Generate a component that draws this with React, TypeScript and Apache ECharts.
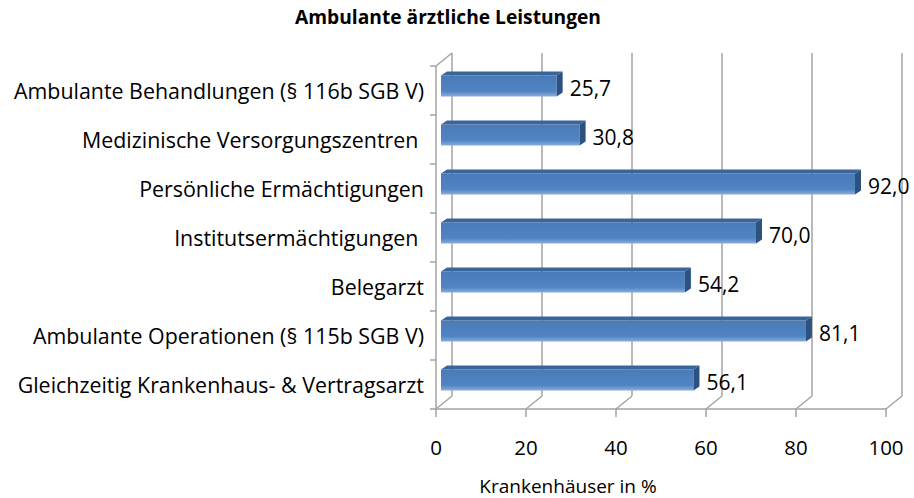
import React, { useEffect, useRef } from "react";
import * as echarts from "echarts";

const TITLE = "Ambulante ärztliche Leistungen";
const AXIS_NAME = "Krankenhäuser in %";
const categories = [
  "Ambulante Behandlungen (§ 116b SGB V)",
  "Medizinische Versorgungszentren ",
  "Persönliche Ermächtigungen",
  "Institutsermächtigungen ",
  "Belegarzt",
  "Ambulante Operationen (§ 115b SGB V)",
  "Gleichzeitig Krankenhaus- & Vertragsarzt",
];
const values = [25.7, 30.8, 92.0, 70.0, 54.2, 81.1, 56.1];
const xTicks = [0, 20, 40, 60, 80, 100];

const FONT = "'Open Sans', 'Noto Sans', sans-serif";
const GRID_GRAY = "#a3a3a3";
const DEPTH_X = 16;
const DEPTH_Y = -13;

export default function App() {
  const ref = useRef<HTMLDivElement>(null);
  useEffect(() => {
    document.body.style.margin = "0";
    const chart = echarts.init(ref.current!, null, { renderer: "svg" });
    const fmt = (v: number) => v.toFixed(1).replace(".", ",");
    const option: any = {
      animation: false,
      backgroundColor: "#ffffff",
      title: [
        {
          text: TITLE,
          left: 448,
          top: 7,
          padding: 0,
          textAlign: "center",
          textStyle: { fontFamily: FONT, fontSize: 19.2, fontWeight: "bold", color: "#000" },
        },
        {
          text: AXIS_NAME,
          left: 568,
          top: 476,
          padding: 0,
          textAlign: "center",
          textStyle: { fontFamily: FONT, fontSize: 19, fontWeight: "normal", color: "#000" },
        },
      ],
      grid: [
        { left: 436, top: 66, width: 450, height: 343 },
        { left: 452, top: 53, width: 450, height: 343 },
        { left: 441, top: 61.5, width: 450, height: 343 },
      ],
      xAxis: [
        {
          gridIndex: 0,
          type: "value",
          min: 0,
          max: 100,
          interval: 20,
          axisLine: { show: true, lineStyle: { color: GRID_GRAY, width: 1.5 } },
          axisTick: { show: true, length: 8, lineStyle: { color: GRID_GRAY, width: 1.5 } },
          splitLine: { show: false },
          axisLabel: { color: "#000", fontFamily: FONT, fontSize: 20.5, margin: 27 },
        },
        {
          gridIndex: 1,
          type: "value",
          min: 0,
          max: 100,
          interval: 20,
          axisLine: { show: false },
          axisTick: { show: false },
          axisLabel: { show: false },
          splitLine: { show: true, lineStyle: { color: GRID_GRAY, width: 1.5 } },
        },
        {
          gridIndex: 2,
          type: "value",
          min: 0,
          max: 100,
          show: false,
        },
      ],
      yAxis: [
        {
          gridIndex: 0,
          type: "category",
          data: categories,
          inverse: true,
          axisLine: { show: true, lineStyle: { color: GRID_GRAY, width: 1.5 } },
          axisTick: { show: true, length: 6, lineStyle: { color: GRID_GRAY, width: 1.5 } },
          axisLabel: { color: "#000", fontFamily: FONT, fontSize: 21.4, margin: 12 },
          splitLine: { show: false },
        },
        {
          gridIndex: 1,
          type: "category",
          data: categories,
          inverse: true,
          show: false,
        },
        {
          gridIndex: 2,
          type: "category",
          data: categories,
          inverse: true,
          show: false,
        },
      ],
      series: [
        {
          type: "custom",
          xAxisIndex: 0,
          yAxisIndex: 0,
          data: xTicks.map((t) => [t, 0]),
          silent: true,
          z: 1,
          renderItem: (params: any, api: any) => {
            const cs = params.coordSys;
            const v = api.value(0);
            const x = api.coord([v, 0])[0];
            const bottom = cs.y + cs.height;
            const children: any[] = [
              {
                type: "line",
                shape: { x1: x, y1: bottom, x2: x + DEPTH_X, y2: bottom + DEPTH_Y },
                style: { stroke: GRID_GRAY, lineWidth: 1.5 },
              },
            ];
            if (v === 0) {
              children.push({
                type: "line",
                shape: { x1: x, y1: cs.y, x2: x + DEPTH_X, y2: cs.y + DEPTH_Y },
                style: { stroke: GRID_GRAY, lineWidth: 1.5 },
              });
            }
            return { type: "group", children };
          },
        },
        {
          type: "custom",
          xAxisIndex: 2,
          yAxisIndex: 2,
          data: values.map((v, i) => [v, i]),
          z: 5,
          renderItem: (params: any, api: any) => {
            const v = api.value(0);
            const c = api.value(1);
            const s = api.coord([0, c]);
            const e = api.coord([v, c]);
            const h = 21;
            const dx = 6;
            const dy = -4;
            const x0 = s[0];
            const x1 = e[0];
            const y0 = e[1] - h / 2;
            return {
              type: "group",
              children: [
                {
                  type: "rect",
                  shape: { x: x0, y: y0, width: x1 - x0, height: h },
                  style: {
                    fill: new echarts.graphic.LinearGradient(0, 0, 0, 1, [
                      { offset: 0, color: "#4a7bb8" },
                      { offset: 0.75, color: "#5084c2" },
                      { offset: 1, color: "#8aaddb" },
                    ]),
                  },
                },
                {
                  type: "polygon",
                  shape: {
                    points: [
                      [x0, y0],
                      [x1, y0],
                      [x1 + dx, y0 + dy],
                      [x0 + dx, y0 + dy],
                    ],
                  },
                  style: { fill: "#3a659b" },
                },
                {
                  type: "polygon",
                  shape: {
                    points: [
                      [x1, y0],
                      [x1 + dx, y0 + dy],
                      [x1 + dx, y0 + h + dy],
                      [x1, y0 + h],
                    ],
                  },
                  style: { fill: "#2d5282" },
                },
                {
                  type: "text",
                  style: {
                    x: x1 + dx + 7,
                    y: e[1] + 2,
                    text: fmt(v),
                    fill: "#000",
                    font: `21px ${FONT}`,
                    verticalAlign: "middle",
                    align: "left",
                  },
                },
              ],
            };
          },
        },
      ],
    };
    chart.setOption(option);
    return () => chart.dispose();
  }, []);
  return <div ref={ref} style={{ width: 914, height: 498 }} />;
}
